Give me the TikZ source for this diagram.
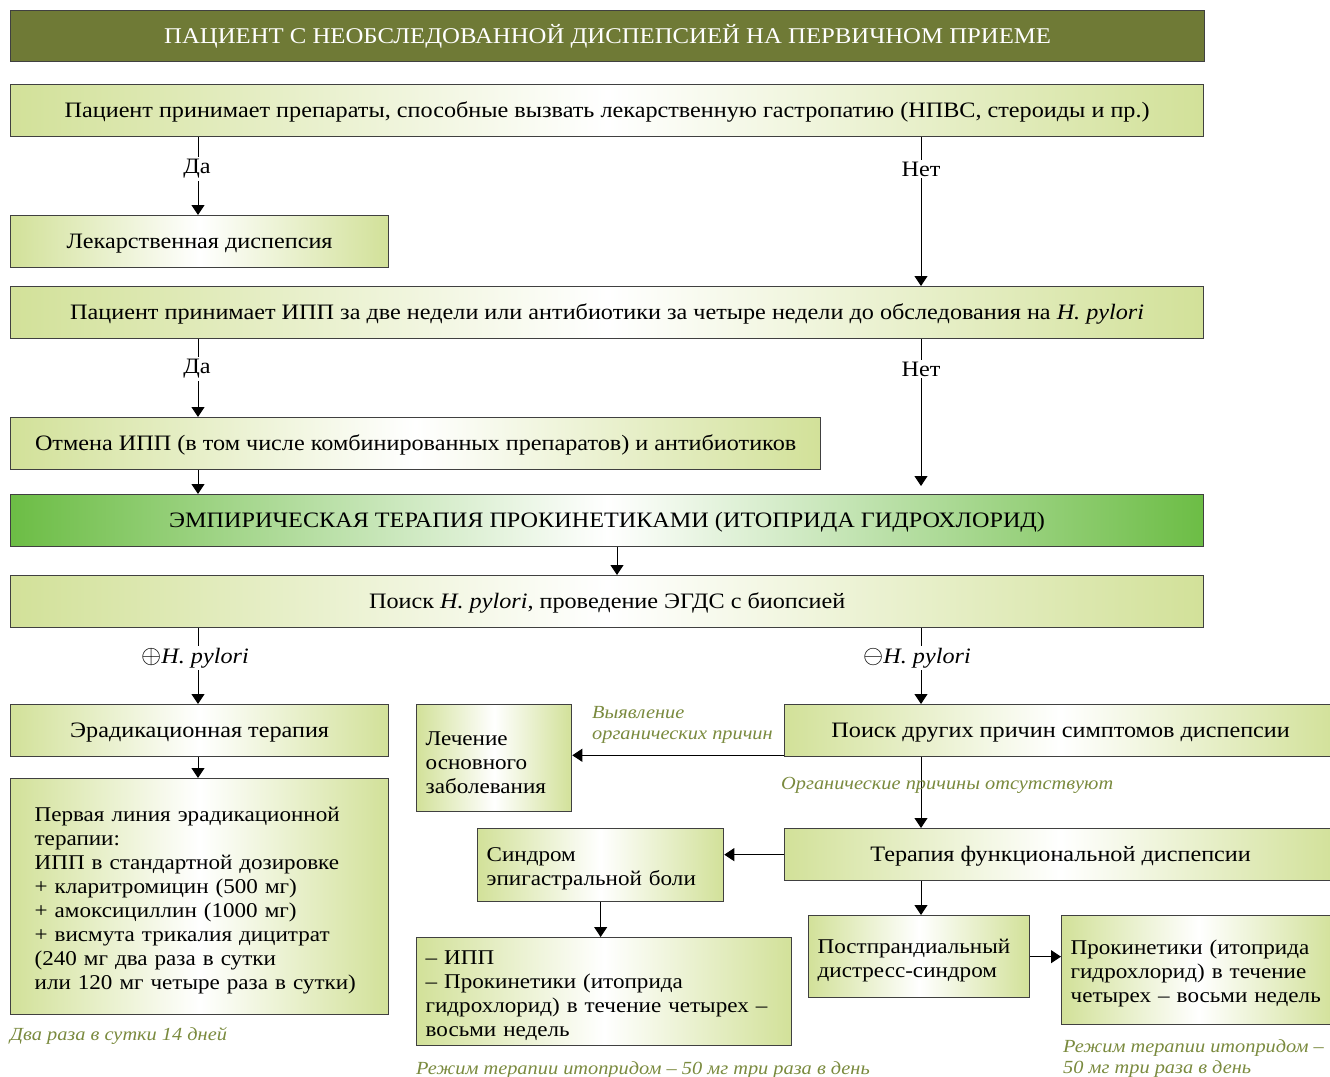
\documentclass[tikz,border=0pt]{standalone}
\usepackage{fontspec}
\setmainfont{Liberation Serif}[FakeStretch=1.1]
\usetikzlibrary{arrows.meta,positioning}
\definecolor{olivehead}{HTML}{6F7A36}
\definecolor{palegreen}{HTML}{D2E199}
\definecolor{brightgreen}{HTML}{6CBD45}
\definecolor{notegreen}{HTML}{7A8A3E}

\begin{document}
\begin{tikzpicture}[x=1pt,y=-1pt,
  frame/.style={draw=black!75,line width=1.3pt,anchor=north west,inner sep=0pt},
  head/.style={frame,fill=olivehead,text=white,minimum height=51pt,font=\fontsize{22.5}{25}\selectfont},
  shaded/.style={frame,left color=palegreen,right color=palegreen,middle color=white},
  box/.style={shaded,minimum height=52pt,text height=19pt,text depth=4.6pt,font=\fontsize{22}{24}\selectfont},
  lbox/.style={shaded,align=left,inner xsep=9pt,font=\fontsize{21}{24}\selectfont,execute at begin node={\rule{0pt}{22pt}}},
  arr/.style={-{Triangle[width=13pt,length=10pt]},line width=1pt},
  yesno/.style={fill=white,inner sep=2pt,font=\fontsize{22}{24}\selectfont},
  note/.style={text=notegreen,font=\fontsize{18.5}{21}\selectfont\itshape,align=left,anchor=north west,inner sep=0pt}]
\useasboundingbox (0,0) rectangle (1330,1076);
\coordinate (lx) at (198,0);
\coordinate (mx) at (617,0);
\coordinate (rx) at (921,0);

% main column
\node[head,minimum width=1194pt] (head) at (10,10) {ПАЦИЕНТ С НЕОБСЛЕДОВАННОЙ ДИСПЕПСИЕЙ НА ПЕРВИЧНОМ ПРИЕМЕ};
\node[box,minimum width=1193pt] (drugq) at (10,84) {Пациент принимает препараты, способные вызвать лекарственную гастропатию (НПВС, стероиды и пр.)};
\node[box,minimum width=378pt] (drugdys) at (10,215) {Лекарственная диспепсия};
\node[box,minimum width=1193pt] (ppiq) at (10,286) {Пациент принимает ИПП за две недели или антибиотики за четыре недели до обследования на \textit{H. pylori}};
\node[box,minimum width=810pt] (stop) at (10,417) {Отмена ИПП (в том числе комбинированных препаратов) и антибиотиков};
\node[box,minimum width=1193pt,left color=brightgreen,right color=brightgreen,middle color=white] (empir) at (10,494) {ЭМПИРИЧЕСКАЯ ТЕРАПИЯ ПРОКИНЕТИКАМИ (ИТОПРИДА ГИДРОХЛОРИД)};
\node[box,minimum width=1193pt] (search) at (10,575) {Поиск \textit{H. pylori}, проведение ЭГДС с биопсией};

% H. pylori +
\node[box,minimum width=378pt] (erad) at (10,704) {Эрадикационная терапия};
\node[lbox,inner xsep=24pt,text width=330pt,minimum height=236pt] (first) at (10,778) {Первая линия эрадикационной терапии:\\ИПП в стандартной дозировке\\+ кларитромицин (500 мг)\\+ амоксициллин (1000 мг)\\+ висмута трикалия дицитрат\\(240 мг два раза в сутки\\или 120 мг четыре раза в сутки)};

% H. pylori -
\node[box,minimum width=552pt] (other) at (784,704) {Поиск других причин симптомов диспепсии};
\node[lbox,text width=137pt,minimum height=107pt] (cure) at (416,704) {Лечение\\основного\\заболевания};
\node[box,minimum width=552pt] (func) at (784,828) {Терапия функциональной диспепсии};
\node[lbox,text width=228pt,minimum height=73pt] (epig) at (477,828) {Синдром\\эпигастральной боли};
\node[lbox,text width=357pt,minimum height=108pt] (epigrx) at (416,937) {– ИПП\\– Прокинетики (итоприда\\гидрохлорид) в течение четырех –\\восьми недель};
\node[lbox,text width=203pt,minimum height=82pt] (pds) at (808,915) {Постпрандиальный\\дистресс-синдром};
\node[lbox,text width=256pt,minimum height=109pt] (pdsrx) at (1061,915) {Прокинетики (итоприда\\гидрохлорид) в течение\\четырех – восьми недель};

% arrows
\draw[arr] (drugq.south -| lx) -- (drugdys.north -| lx);
\draw[arr] (drugq.south -| rx) -- (ppiq.north -| rx);
\draw[arr] (ppiq.south -| lx) -- (stop.north -| lx);
\draw[arr,shorten >=8pt] (ppiq.south -| rx) -- (empir.north -| rx);
\draw[arr] (stop.south -| lx) -- (empir.north -| lx);
\draw[arr] (empir.south -| mx) -- (search.north -| mx);
\draw[arr] (search.south -| lx) -- (erad.north -| lx);
\draw[arr] (search.south -| rx) -- (other.north -| rx);
\draw[arr] (erad.south -| lx) -- (first.north -| lx);
\coordinate (found) at ([yshift=2pt]other.south west);
\draw[arr] (found) -- (found -| cure.east);
\draw[arr] (other.south -| rx) -- (func.north -| rx);
\draw[arr] (func.west) -- (func.west -| epig.east);
\draw[arr] (epig.south) -- (epigrx.north -| epig.south);
\draw[arr] (func.south -| rx) -- (pds.north -| rx);
\draw[arr] (pds.east) -- (pds.east -| pdsrx.west);

% labels
\node[yesno] (yes1) at (197,169) {Да};
\node[yesno] (no1) at (921,169) {Нет};
\node[yesno] (yes2) at (197,369) {Да};
\node[yesno] (no2) at (921,369) {Нет};
\node[yesno] (hpplus) at (195,658) {\scalebox{1.25}{$\oplus$}\textit{H. pylori}};
\node[yesno] (hpminus) at (917,658) {\scalebox{1.25}{$\ominus$}\textit{H. pylori}};
\node[note] (organic) at (592,706) {Выявление\\органических причин};
\node[note] (noorganic) at (781,777) {Органические причины отсутствуют};
\node[note] (twice) at (10,1027) {Два раза в сутки 14 дней};
\node[note] (mode1) at (416,1061) {Режим терапии итопридом – 50 мг три раза в день};
\node[note] (mode2) at (1063,1039) {Режим терапии итопридом –\\50 мг три раза в день};
\end{tikzpicture}
\end{document}
